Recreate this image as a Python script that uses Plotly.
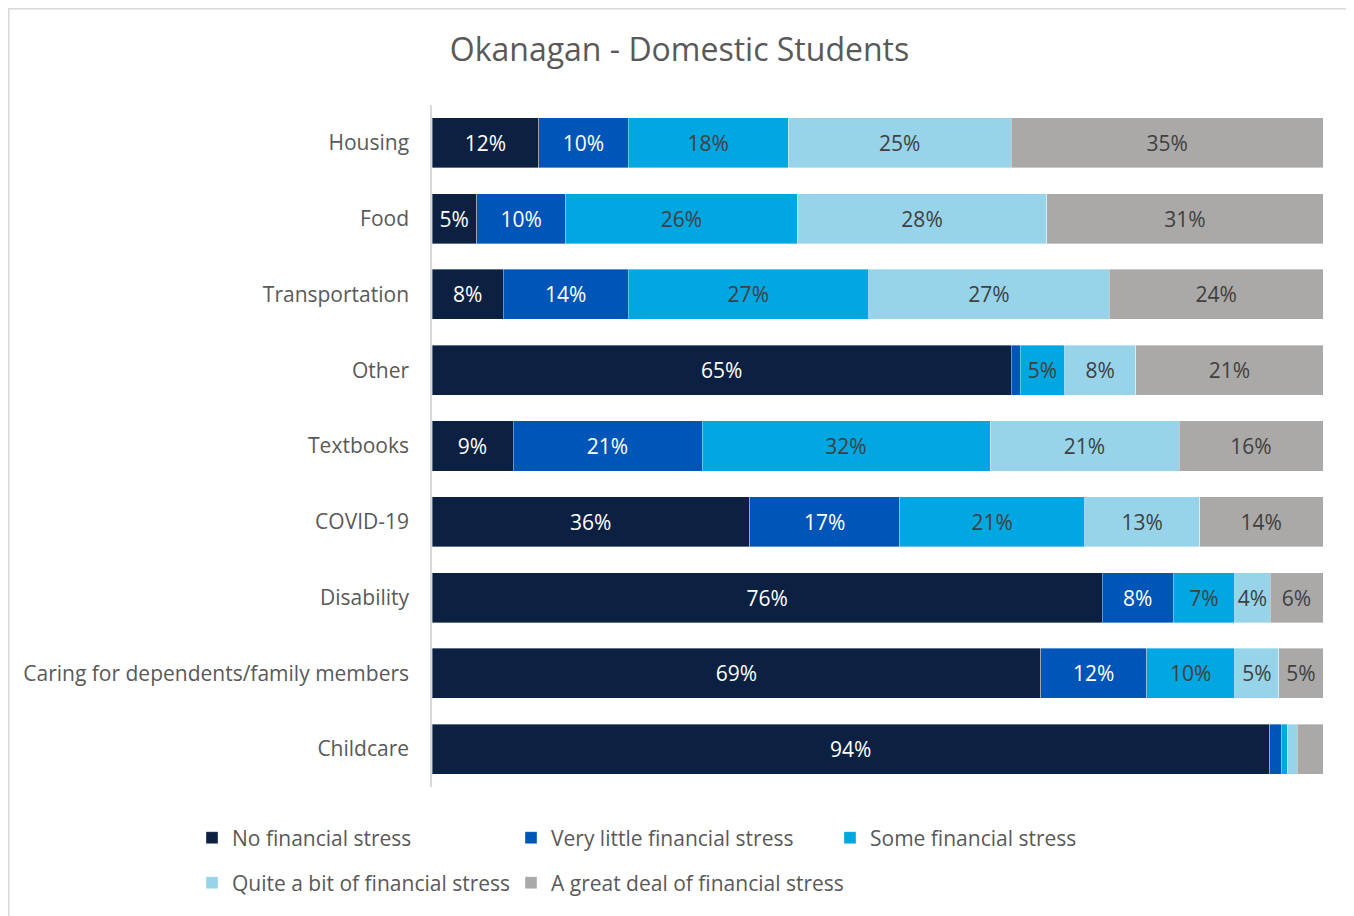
import plotly.graph_objects as go

categories = ["Housing", "Food", "Transportation", "Other", "Textbooks", "COVID-19",
              "Disability", "Caring for dependents/family members", "Childcare"]

series_names = ["No financial stress", "Very little financial stress", "Some financial stress",
                "Quite a bit of financial stress", "A great deal of financial stress"]

no_stress = [12, 5, 8, 65, 9, 36, 76, 69, 94]
very_little = [10, 10, 14, 1, 21, 17, 8, 12, 1.3]
some = [18, 26, 27, 5, 32, 21, 7, 10, 0.7]
quite_a_bit = [25, 28, 27, 8, 21, 13, 4, 5, 1.1]
great_deal = [35, 31, 24, 21, 16, 14, 6, 5, 2.9]

all_values = [no_stress, very_little, some, quite_a_bit, great_deal]
colors = ["#0C2142", "#0055B8", "#00A7E1", "#97D4E9", "#ABA9A7"]
text_colors = ["#FFFFFF", "#FFFFFF", "#404040", "#404040", "#404040"]
legend_ids = ["legend", "legend2", "legend3", "legend4", "legend5"]

FONT = "Open Sans, Lato, sans-serif"

fig = go.Figure()
for name, vals, col, tcol, lg in zip(series_names, all_values, colors, text_colors, legend_ids):
    labels = [f"{v:.0f}%" if v >= 3.5 else "" for v in vals]
    fig.add_trace(go.Bar(
        y=categories, x=vals, name=name, orientation="h",
        marker=dict(color=col, line=dict(color="rgba(255,255,255,0.6)", width=0.6)),
        text=labels, textposition="inside", insidetextanchor="middle", textangle=0,
        textfont=dict(family=FONT, size=21, color=tcol),
        legend=lg, showlegend=True, hoverinfo="skip",
    ))

# page is drawn with an 8px body margin; work in figure coordinates
W, H = 1354, 916
L, R, T, B = 424, 39, 97, 137
pw, ph = W - L - R, H - T - B

def px_x(x):
    return (x - L) / pw

def px_y(y):
    return (H - B - y) / ph

legend_pos = [(184, 830), (503, 830), (822, 830), (184, 875), (503, 875)]
legend_layout = {}
for lg, (lx, ly) in zip(legend_ids, legend_pos):
    legend_layout[lg] = dict(orientation="h", x=px_x(lx), xanchor="left", y=px_y(ly),
                             yanchor="middle", font=dict(family=FONT, size=21, color="#595959"),
                             bgcolor="rgba(0,0,0,0)")

fig.update_layout(
    width=W, height=H, showlegend=True,
    barmode="stack", barnorm="percent", bargap=0.34,
    paper_bgcolor="white", plot_bgcolor="white",
    margin=dict(l=L, r=R, t=T, b=B, autoexpand=False),
    title=dict(text="Okanagan - Domestic Students", x=671.5 / W, xanchor="center",
               y=1 - 42 / H, yanchor="middle",
               font=dict(family=FONT, size=32, color="#595959")),
    font=dict(family=FONT, color="#595959"),
    xaxis=dict(range=[0, 100], showticklabels=False, showgrid=False, zeroline=False,
               showline=False, fixedrange=True),
    yaxis=dict(autorange="reversed", showline=True, linecolor="#D9D9D9", linewidth=1.5,
               ticks="", ticklabelstandoff=17, showgrid=False,
               tickfont=dict(family=FONT, size=21, color="#595959")),
    uniformtext=dict(mode="show", minsize=21),
    shapes=[dict(type="rect", xref="paper", yref="paper",
                 x0=px_x(0.75), x1=px_x(1344), y0=px_y(915), y1=px_y(0.75),
                 line=dict(color="#D9D9D9", width=1.5), fillcolor="rgba(0,0,0,0)", layer="below")],
    **legend_layout,
)

fig.write_html("out.html")
